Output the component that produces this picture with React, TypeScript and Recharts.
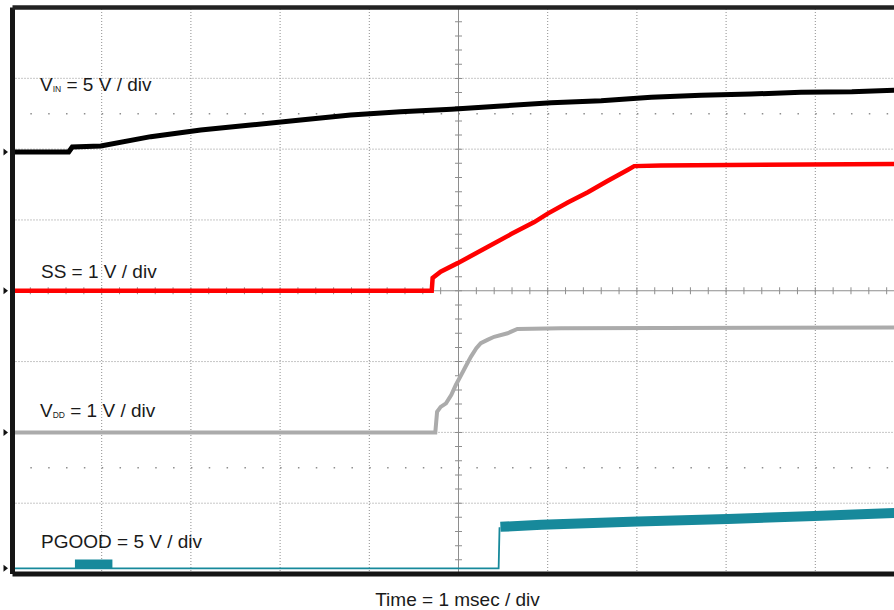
import { LineChart, Line, XAxis, YAxis, ReferenceLine, ReferenceDot } from "recharts"

// time in msec (1 msec / div), each channel in its own volts
const vinTime = [0, 0.63, 0.67, 0.99, 1.55, 2.11, 2.67, 3.23, 3.79, 4.35, 4.92, 5.48, 6.04, 6.6, 7.16, 7.72, 8.28, 8.84, 9.41, 9.9, 10]
const vinVolts = [0, 0, 0.35, 0.42, 1.08, 1.55, 1.9, 2.26, 2.61, 2.84, 3.01, 3.24, 3.48, 3.62, 3.86, 4.0, 4.09, 4.21, 4.25, 4.37, 4.39]

const ssTime = [0, 4.7, 4.71, 4.8, 4.99, 5.33, 5.59, 5.85, 6.0, 6.23, 6.45, 6.67, 6.9, 6.97, 7.27, 10]
const ssVolts = [0, 0, 0.18, 0.27, 0.39, 0.62, 0.8, 0.97, 1.09, 1.25, 1.39, 1.55, 1.71, 1.76, 1.77, 1.79]

const vddTime = [0, 4.74, 4.76, 4.8, 4.86, 4.92, 4.97, 5.03, 5.08, 5.14, 5.2, 5.25, 5.33, 5.4, 5.55, 5.66, 6.15, 10]
const vddVolts = [0, 0, 0.29, 0.36, 0.41, 0.53, 0.67, 0.81, 0.93, 1.07, 1.19, 1.26, 1.31, 1.35, 1.4, 1.46, 1.47, 1.48]

const pgoodLowTime = [0, 5.45, 5.46]
const pgoodLowVolts = [0, 0, 2.9]
const pgoodHighTime = [5.47, 5.93, 7.01, 8.02, 8.99, 9.89, 10]
const pgoodHighVolts = [2.93, 3.07, 3.31, 3.49, 3.7, 3.91, 3.94]
const pgoodBurstTime = [0.7, 1.12]
const pgoodBurstVolts = [0.3, 0.3]

// graticule
const divX = [1, 2, 3, 4, 6, 7, 8, 9]
const divY = [-3, -2, -1, 1, 2, 3]
const halfDivY = [2.5, -2.5]

const zip = (ts: number[], vs: number[]) => ts.map((t, i) => ({ t, v: vs[i] }))

const vinData = zip(vinTime, vinVolts)
const ssData = zip(ssTime, ssVolts)
const vddData = zip(vddTime, vddVolts)
const pgoodLow = zip(pgoodLowTime, pgoodLowVolts)
const pgoodHigh = zip(pgoodHighTime, pgoodHighVolts)
const pgoodBurst = zip(pgoodBurstTime, pgoodBurstVolts)

const GRID = "#8e8e8e"
const FONT = '"Liberation Sans", Arial, Helvetica, sans-serif'

function GroundMarker({ cx, cy }: { cx?: number; cy?: number }) {
  if (cx == null || cy == null) return null
  return <path d={`M${cx - 9} ${cy - 3.5} L${cx - 4.5} ${cy} L${cx - 9} ${cy + 3.5} Z`} fill="#111" />
}

export default function App() {
  return (
    <div style={{ position: "fixed", left: 0, top: 0, width: 894, height: 610, overflow: "hidden", background: "#fff" }}>
      <LineChart width={912} height={610} margin={{ top: 7.5, right: 7.5, bottom: 36, left: 12.5 }}>
        <XAxis dataKey="t" type="number" domain={[0, 10]} hide allowDataOverflow />
        <YAxis yAxisId="ss" type="number" domain={[-4, 4]} hide allowDataOverflow />
        <YAxis yAxisId="vin" type="number" domain={[-29.8, 10.2]} hide allowDataOverflow />
        <YAxis yAxisId="vdd" type="number" domain={[-2, 6]} hide allowDataOverflow />
        <YAxis yAxisId="pgood" type="number" domain={[-0.4, 39.6]} hide allowDataOverflow />

        {divX.map((x) => (
          <ReferenceLine key={"gx" + x} x={x} yAxisId="ss" stroke={GRID} strokeDasharray="1 2" />
        ))}
        {divY.map((y) => (
          <ReferenceLine key={"gy" + y} y={y} yAxisId="ss" stroke={GRID} strokeDasharray="1 2" />
        ))}
        {halfDivY.map((y) => (
          <ReferenceLine key={"hy" + y} y={y} yAxisId="ss" stroke={GRID} strokeWidth={1.5} strokeDasharray="1.5 16.34" />
        ))}

        {/* center axes with minor ticks */}
        <ReferenceLine x={5} yAxisId="ss" stroke={GRID} strokeWidth={7} strokeDasharray="1 13.16" strokeDashoffset={0.5} />
        <ReferenceLine y={0} yAxisId="ss" stroke={GRID} strokeWidth={7} strokeDasharray="1 16.84" strokeDashoffset={0.5} />
        <ReferenceLine x={5} yAxisId="ss" stroke={GRID} />
        <ReferenceLine y={0} yAxisId="ss" stroke={GRID} />

        <Line data={vinData} dataKey="v" yAxisId="vin" name="VIN" stroke="#000" strokeWidth={5} dot={false} isAnimationActive={false} />
        <Line data={ssData} dataKey="v" yAxisId="ss" name="SS" stroke="#ff0000" strokeWidth={4.5} dot={false} isAnimationActive={false} />
        <Line data={vddData} dataKey="v" yAxisId="vdd" name="VDD" stroke="#ababab" strokeWidth={4} dot={false} isAnimationActive={false} />
        <Line data={pgoodLow} dataKey="v" yAxisId="pgood" name="PGOOD" stroke="#17899b" strokeWidth={1.8} dot={false} isAnimationActive={false} />
        <Line data={pgoodBurst} dataKey="v" yAxisId="pgood" name="PGOOD burst" stroke="#17899b" strokeWidth={9} dot={false} isAnimationActive={false} />
        <Line data={pgoodHigh} dataKey="v" yAxisId="pgood" name="PGOOD high" stroke="#17899b" strokeWidth={10} dot={false} isAnimationActive={false} />

        {/* frame */}
        <ReferenceLine x={0} yAxisId="ss" stroke="#151515" strokeWidth={5} />
        <ReferenceLine y={4} yAxisId="ss" stroke="#222" strokeWidth={4.5} />
        <ReferenceLine y={-4} yAxisId="ss" stroke="#151515" strokeWidth={5} />

        <ReferenceDot x={0} y={0} yAxisId="vin" shape={<GroundMarker />} />
        <ReferenceDot x={0} y={0} yAxisId="ss" shape={<GroundMarker />} />
        <ReferenceDot x={0} y={0} yAxisId="vdd" shape={<GroundMarker />} />
        <ReferenceDot x={0} y={0} yAxisId="pgood" shape={<GroundMarker />} />
      </LineChart>

      <svg width={894} height={610} style={{ position: "absolute", left: 0, top: 0, pointerEvents: "none" }} fontFamily={FONT} fill="#1a1a1a">
        <text x={40} y={90.5} fontSize={19}>
          V<tspan fontSize={8.5} dy={1.5}>IN</tspan>
          <tspan dy={-1.5}> = 5 V / div</tspan>
        </text>
        <text x={41} y={277.5} fontSize={19}>SS = 1 V / div</text>
        <text x={40} y={416.5} fontSize={19}>
          V<tspan fontSize={8.5} dy={1.5}>DD</tspan>
          <tspan dy={-1.5}> = 1 V / div</tspan>
        </text>
        <text x={41} y={547.5} fontSize={19}>PGOOD = 5 V / div</text>
        <text x={457.5} y={606} fontSize={19} textAnchor="middle">Time = 1 msec / div</text>
      </svg>
    </div>
  )
}
